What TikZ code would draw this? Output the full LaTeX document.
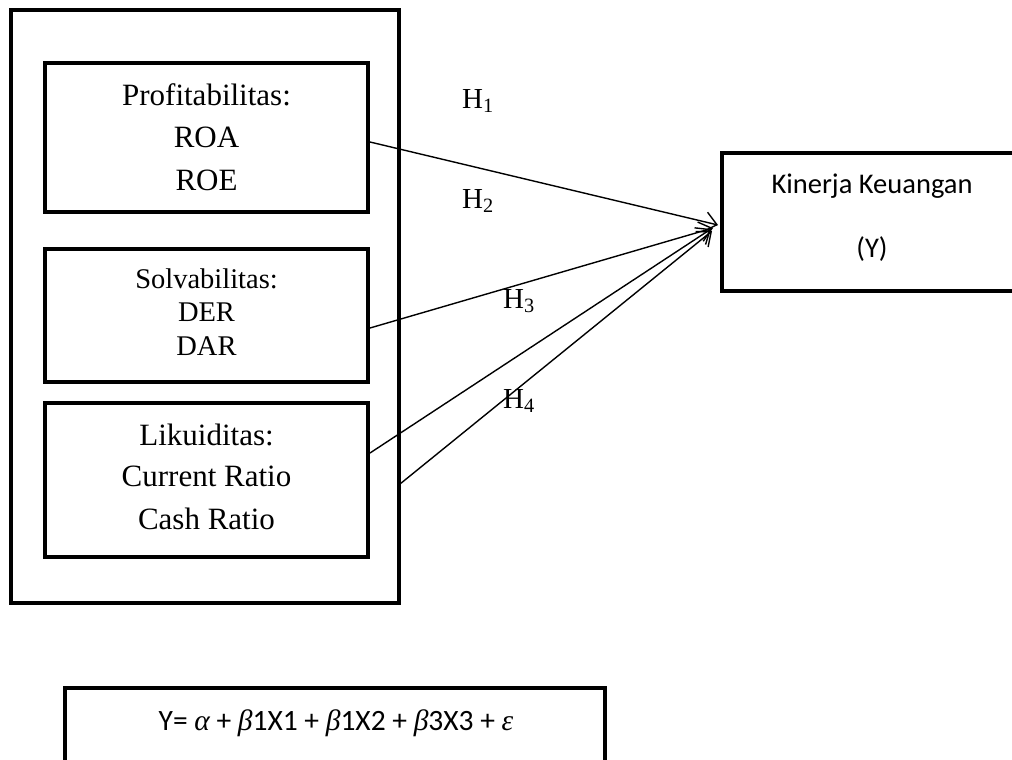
\documentclass[tikz,border=0pt]{standalone}
\usepackage{fontspec}
\setmainfont{Liberation Serif}
\newfontfamily\calfont{Carlito}
\newfontfamily\grkfont{Liberation Serif}
\usetikzlibrary{arrows.meta,calc}
\begin{document}
\begin{tikzpicture}[x=1pt,y=-1pt,
  box/.style={draw, line width=4.5pt, rectangle, inner sep=0pt, outer sep=0pt},
  link/.style={line width=1.4pt, -{Straight Barb[length=12pt,width=20pt,line width=1.4pt]}},
  big/.style={font=\fontsize{31}{36}\selectfont, anchor=base, inner sep=0pt},
  mid/.style={font=\fontsize{28.5}{34}\selectfont, anchor=base, inner sep=0pt},
  hlab/.style={font=\fontsize{29}{34}\selectfont, anchor=base west, inner sep=0pt},
  sans/.style={font=\calfont\fontsize{28.5}{34}\selectfont, anchor=base, inner sep=0pt},
]
\useasboundingbox (0,0) rectangle (1012,760);
\clip (0,0) rectangle (1012,760);
\fill[white] (0,0) rectangle (1012,760);

% outer frame and inner boxes
\node[box, minimum width=388pt, minimum height=593pt] (outer) at (205,306.5) {};
\node[box, minimum width=323pt, minimum height=149pt] (prof) at (206.5,137.5) {};
\node[box, minimum width=323pt, minimum height=133pt] (solv) at (206.5,315.5) {};
\node[box, minimum width=323pt, minimum height=154pt] (liku) at (206.5,480) {};

\node[big] (p1) at (206.5,106) {Profitabilitas:};
\node[big] (p2) at (206.5,147) {ROA};
\node[big] (p3) at (206.5,190) {ROE};

\node[mid] (s1) at (206.5,288) {Solvabilitas:};
\node[mid] (s2) at (206.5,321) {DER};
\node[mid] (s3) at (206.5,355) {DAR};

\node[big] (l1) at (206.5,445) {Likuiditas:};
\node[big] (l2) at (206.5,486.5) {Current Ratio};
\node[big] (l3) at (206.5,529) {Cash Ratio};

% dependent variable box
\node[box, minimum width=294pt, minimum height=138pt] (kin) at (869,222) {};
\node[sans] (k1) at (872,193) {Kinerja Keuangan};
\node[sans] (k2) at (872,257) {(Y)};

% hypothesis labels
\node[hlab] (h1) at (462,108) {H\textsubscript{1}};
\node[hlab] (h2) at (462,208) {H\textsubscript{2}};
\node[hlab] (h3) at (503,308) {H\textsubscript{3}};
\node[hlab] (h4) at (503,408) {H\textsubscript{4}};

% arrow tips
\coordinate (t1) at ($(kin.west)+(-4,3)$);
\coordinate (t2) at ($(kin.west)+(-9,6)$);
\coordinate (t3) at ($(kin.west)+(-11,7)$);
\coordinate (t4) at ($(kin.west)+(-10,9)$);

\draw[link] ($(prof.east)+(2,4.5)$) -- (t1);
\draw[link] ($(solv.east)+(2,12.5)$) -- (t2);
\draw[link] ($(liku.east)+(2,-27)$) -- (t3);
\draw[link] ($(outer.east)+(1,177.5)$) -- (t4);

% equation box
\node[box, minimum width=540pt, minimum height=140pt, anchor=north west] (eq) at (65,688) {};
\node[sans, font=\calfont\fontsize{29.5}{34}\selectfont] (eqt) at (336,730)
  {Y= {\grkfont\itshape α} + {\grkfont\itshape β}1X1 + {\grkfont\itshape β}1X2 + {\grkfont\itshape β}3X3 + {\grkfont\itshape ε}};
\end{tikzpicture}
\end{document}
